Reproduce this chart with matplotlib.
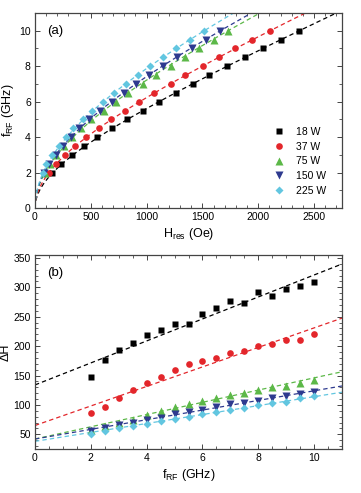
import numpy as np
import matplotlib
matplotlib.use("Agg")
import matplotlib.pyplot as plt
from matplotlib.ticker import MultipleLocator

plt.rcParams['font.family'] = ['Liberation Sans', 'DejaVu Sans']
plt.rcParams['mathtext.default'] = 'regular'

# Data
powers = ["18 W", "37 W", "75 W", "150 W", "225 W"]
colors = ["#000000", "#e3262b", "#5cb848", "#2e3a8f", "#62c6e0"]
markers = ["s", "o", "^", "v", "D"]
msizes = [4.4, 4.8, 5.2, 5.2, 4.2]

f_rf = [2, 2.5, 3, 3.5, 4, 4.5, 5, 5.5, 6, 6.5, 7, 7.5, 8, 8.5, 9, 9.5, 10]

# panel (a): resonance field (Oe)
h_18 = [155, 232, 331, 436, 556, 689, 821, 963, 1110, 1261, 1414, 1561, 1721, 1883, 2046, 2202, 2368]
h_37 = [126, 185, 268, 361, 457, 569, 683, 803, 933, 1065, 1215, 1348, 1501, 1646, 1796, 1946, 2106]
h_75 = [90, 138, 190, 258, 330, 412, 502, 614, 722, 833, 963, 1080, 1215, 1345, 1471, 1600, 1730]
h_150 = [84, 126, 187, 247, 322, 397, 481, 578, 686, 794, 909, 1023, 1149, 1276, 1405, 1531, 1661]
h_225 = [73, 98, 155, 211, 277, 343, 427, 511, 608, 704, 812, 924, 1029, 1143, 1264, 1384, 1516]
h_res = [h_18, h_37, h_75, h_150, h_225]

# Kittel fits: f = gamma * sqrt(H (H + 4piMeff))
gamma = 0.0028  # GHz/Oe
meff = [3019, 3951, 5643, 6018, 6898]

# panel (b): linewidth
dh_18 = [148, 176, 193, 206, 219, 228, 238, 237, 255, 264, 276, 273, 292, 286, 297, 303, 309]
dh_37 = [87, 97, 111, 125, 138, 147, 159, 169, 174, 180, 188, 192, 200, 204, 210, 210, 220]
dh_75 = [58, 64, 70, 75, 83, 89, 96, 101, 107, 112, 117, 121, 125, 130, 133, 137, 142]
dh_150 = [56, 60, 66, 70, 74, 78, 84, 88, 92, 97, 101, 104, 107, 111, 115, 119, 122]
dh_225 = [51, 55, 60, 64, 68, 72, 76, 80, 85, 88, 92, 95, 99, 103, 105, 111, 115]
dh = [dh_18, dh_37, dh_75, dh_150, dh_225]

dh0 = [134, 65, 42, 42, 38]
slope = [18.7, 16.6, 10.4, 8.2, 7.6]

fig = plt.figure(figsize=(3.61, 4.93), dpi=100)
ax1 = fig.add_axes([35 / 361, 285 / 493, 307 / 361, 195 / 493])
ax2 = fig.add_axes([35 / 361, 44 / 493, 307 / 361, 194 / 493])


def style(ax):
    for s in ax.spines.values():
        s.set_color("#444444")
        s.set_linewidth(0.9)
    ax.tick_params(which="both", direction="in", top=True, right=True,
                   labelsize=7.5, colors="#444444", labelcolor="black", pad=3)
    ax.tick_params(which="major", length=3.5, width=0.7)
    ax.tick_params(which="minor", length=2, width=0.6)


# (a)
for i in range(5):
    hh = np.linspace(0, 2750, 600)
    ff = gamma * np.sqrt(hh * (hh + meff[i]))
    ax1.plot(hh, ff, "--", color=colors[i], lw=0.9, dashes=(3.5, 2.5))
for i in range(5):
    ax1.plot(h_res[i], f_rf, markers[i], color=colors[i], ms=msizes[i],
             mec="none", ls="none", label=powers[i])

ax1.set_xlim(0, 2750)
ax1.set_ylim(0, 11)
ax1.xaxis.set_major_locator(MultipleLocator(500))
ax1.xaxis.set_minor_locator(MultipleLocator(100))
ax1.yaxis.set_major_locator(MultipleLocator(2))
ax1.yaxis.set_minor_locator(MultipleLocator(1))
style(ax1)
ax1.set_xlabel("H$_{res}$ (Oe)", fontsize=9, labelpad=3)
ax1.set_ylabel("f$_{RF}$ (GHz)", fontsize=9, labelpad=2)
ax1.text(0.04, 0.94, "(a)", transform=ax1.transAxes, fontsize=9.5, va="top")
ax1.legend(loc="lower right", frameon=False, fontsize=7.5, handletextpad=1.0,
           labelspacing=0.45, borderaxespad=0.4, handlelength=1.2,
           bbox_to_anchor=(0.975, 0.02))

# (b)
xx = np.array([0, 11])
for i in range(5):
    ax2.plot(xx, dh0[i] + slope[i] * xx, "--", color=colors[i], lw=0.9, dashes=(3.5, 2.5))
for i in range(5):
    ax2.plot(f_rf, dh[i], markers[i], color=colors[i], ms=msizes[i],
             mec="none", ls="none")

ax2.set_xlim(0, 11)
ax2.set_ylim(25, 355)
ax2.xaxis.set_major_locator(MultipleLocator(2))
ax2.xaxis.set_minor_locator(MultipleLocator(0.5))
ax2.yaxis.set_major_locator(MultipleLocator(50))
ax2.yaxis.set_minor_locator(MultipleLocator(10))
style(ax2)
ax2.set_xlabel("f$_{RF}$ (GHz)", fontsize=9, labelpad=3)
ax2.set_ylabel("ΔH", fontsize=9, labelpad=1)
ax2.text(0.04, 0.94, "(b)", transform=ax2.transAxes, fontsize=9.5, va="top")

fig.savefig("out.png", dpi=100)
